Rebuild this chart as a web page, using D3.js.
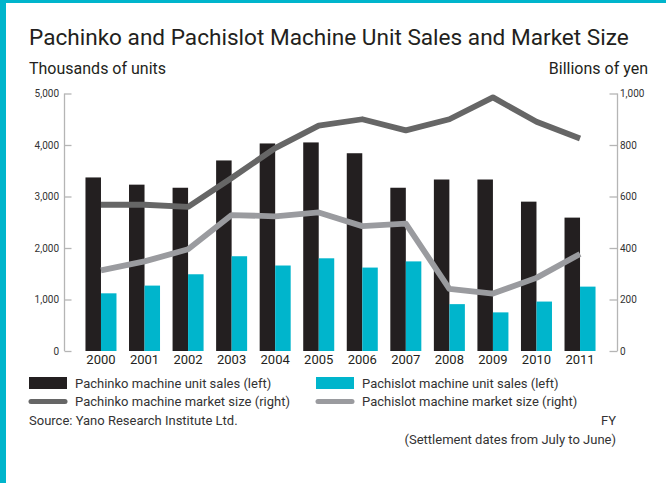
<!DOCTYPE html>
<html>
<head>
<meta charset="utf-8">
<script src="https://cdn.jsdelivr.net/npm/d3@7"></script>
<style>
  body { margin: 0; background: #fff; }
  svg { display: block; font-family: Roboto, "Liberation Sans", sans-serif; }
</style>
</head>
<body>
<script>
// data
var years = ["2000", "2001", "2002", "2003", "2004", "2005", "2006", "2007", "2008", "2009", "2010", "2011"];
var pachinkoUnits = [3370, 3230, 3170, 3700, 4030, 4050, 3840, 3170, 3330, 3330, 2900, 2590];
var pachislotUnits = [1120, 1270, 1490, 1840, 1660, 1800, 1620, 1740, 910, 750, 960, 1250];
var pachinkoMarket = [568, 568, 560, 672, 788, 875, 900, 857, 900, 985, 890, 825];
var pachislotMarket = [313, 348, 395, 528, 523, 538, 485, 495, 241, 223, 284, 377];
var leftTicks = [0, 1000, 2000, 3000, 4000, 5000];
var rightTicks = [0, 200, 400, 600, 800, 1000];

var W = 666, H = 483;
var teal = "#00b5cc", black = "#231f20", darkGray = "#666666", lightGray = "#9a9b9f";

var svg = d3.select(document.body).append("svg")
  .attr("width", W).attr("height", H);

// frame
svg.append("rect").attr("x", 0).attr("y", 0).attr("width", 6).attr("height", H).attr("fill", teal);
svg.append("rect").attr("x", 0).attr("y", 0).attr("width", W).attr("height", 3).attr("fill", teal);

svg.append("text").attr("x", 29).attr("y", 45)
  .attr("font-size", 22.6).attr("fill", black)
  .text("Pachinko and Pachislot Machine Unit Sales and Market Size");
svg.append("text").attr("x", 29).attr("y", 74)
  .attr("font-size", 16).attr("fill", black)
  .text("Thousands of units");
svg.append("text").attr("x", 648).attr("y", 74)
  .attr("font-size", 16).attr("fill", black).attr("text-anchor", "end")
  .text("Billions of yen");

var x = d3.scaleBand().domain(years).range([79.2, 601.8])
  .paddingInner(0.288).paddingOuter(0.144);
var xs = d3.scaleBand().domain(["a", "b"]).range([0, x.bandwidth()]);
var yL = d3.scaleLinear().domain([0, 5000]).range([351, 93.5]);
var yR = d3.scaleLinear().domain([0, 1000]).range([351, 93.5]);

// axes
var axisColor = "#b5b5b5";
var gl = svg.append("g").attr("transform", "translate(64.5,0)")
  .call(d3.axisRight(yL).tickValues(leftTicks).tickSize(7).tickFormat(""));
var gr = svg.append("g").attr("transform", "translate(617.5,0)")
  .call(d3.axisLeft(yR).tickValues(rightTicks).tickSize(8).tickFormat(""));
[gl, gr].forEach(function(g) {
  g.select(".domain").remove();
  g.selectAll("line").attr("stroke", axisColor).attr("stroke-width", 1.3);
});
gl.append("line").attr("y1", yL(0)).attr("y2", yL(5000)).attr("stroke", axisColor).attr("stroke-width", 1.3);
gr.append("line").attr("y1", yR(0)).attr("y2", yR(1000)).attr("stroke", axisColor).attr("stroke-width", 1.3);

svg.append("g").selectAll("text").data(leftTicks).join("text")
  .attr("x", 59).attr("y", function(d) { return yL(d) + 3.5; })
  .attr("text-anchor", "end").attr("font-size", 10).attr("fill", "#333")
  .text(d3.format(","));
svg.append("g").selectAll("text").data(rightTicks).join("text")
  .attr("x", 620).attr("y", function(d) { return yR(d) + 3.5; })
  .attr("font-size", 10).attr("fill", "#333")
  .text(d3.format(","));

// bars
svg.append("g").selectAll("rect").data(years).join("rect")
  .attr("x", function(d) { return x(d) + xs("a"); })
  .attr("y", function(d, i) { return yL(pachinkoUnits[i]); })
  .attr("width", xs.bandwidth())
  .attr("height", function(d, i) { return yL(0) - yL(pachinkoUnits[i]); })
  .attr("fill", black);
svg.append("g").selectAll("rect").data(years).join("rect")
  .attr("x", function(d) { return x(d) + xs("b"); })
  .attr("y", function(d, i) { return yL(pachislotUnits[i]); })
  .attr("width", xs.bandwidth())
  .attr("height", function(d, i) { return yL(0) - yL(pachislotUnits[i]); })
  .attr("fill", teal);

// lines
function cx(i) { return x(years[i]) + x.bandwidth() / 2; }
var line = d3.line().x(function(d, i) { return cx(i); }).y(function(d) { return yR(d); });
svg.append("path").datum(pachislotMarket).attr("d", line)
  .attr("fill", "none").attr("stroke", lightGray).attr("stroke-width", 5.8).attr("stroke-linejoin", "round");
svg.append("path").datum(pachinkoMarket).attr("d", line)
  .attr("fill", "none").attr("stroke", darkGray).attr("stroke-width", 5.8).attr("stroke-linejoin", "round");

// year labels
svg.append("g").selectAll("text").data(years).join("text")
  .attr("x", function(d, i) { return cx(i); }).attr("y", 364)
  .attr("text-anchor", "middle").attr("font-size", 13).attr("fill", black)
  .text(function(d) { return d; });

// legend
var leg = svg.append("g").attr("font-size", 13).attr("fill", "#333");
leg.append("rect").attr("x", 29).attr("y", 377).attr("width", 38).attr("height", 12).attr("fill", black);
leg.append("rect").attr("x", 316).attr("y", 377).attr("width", 38).attr("height", 12).attr("fill", teal);
leg.append("line").attr("x1", 31).attr("x2", 65).attr("y1", 401.5).attr("y2", 401.5)
  .attr("stroke", darkGray).attr("stroke-width", 5).attr("stroke-linecap", "round");
leg.append("line").attr("x1", 318).attr("x2", 352).attr("y1", 401.5).attr("y2", 401.5)
  .attr("stroke", lightGray).attr("stroke-width", 5).attr("stroke-linecap", "round");
leg.append("text").attr("x", 75).attr("y", 388).text("Pachinko machine unit sales (left)");
leg.append("text").attr("x", 362).attr("y", 388).text("Pachislot machine unit sales (left)");
leg.append("text").attr("x", 75).attr("y", 406).text("Pachinko machine market size (right)");
leg.append("text").attr("x", 362).attr("y", 406).text("Pachislot machine market size (right)");
leg.append("text").attr("x", 29).attr("y", 425).text("Source: Yano Research Institute Ltd.");
leg.append("text").attr("x", 616).attr("y", 425).attr("text-anchor", "end").text("FY");
leg.append("text").attr("x", 616).attr("y", 444).attr("text-anchor", "end").text("(Settlement dates from July to June)");
</script>
</body>
</html>
